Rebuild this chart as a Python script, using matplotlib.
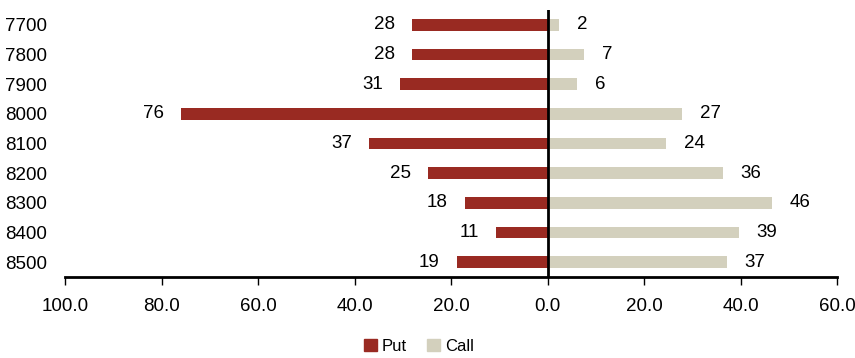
import matplotlib.pyplot as plt
import numpy as np
from matplotlib.patches import Patch

strikes = ["7700", "7800", "7900", "8000", "8100", "8200", "8300", "8400", "8500"]
put_values = [28.0, 28.0, 30.6, 75.9, 37.0, 24.7, 17.1, 10.7, 18.8]
call_values = [2.4, 7.6, 6.2, 27.9, 24.5, 36.3, 46.5, 39.6, 37.1]
put_labels = ["28", "28", "31", "76", "37", "25", "18", "11", "19"]
call_labels = ["2", "7", "6", "27", "24", "36", "46", "39", "37"]

PUT_COLOR = "#992a22"
CALL_COLOR = "#d3d0bd"

plt.rcParams["font.family"] = ["Liberation Sans", "DejaVu Sans"]

fig = plt.figure(figsize=(8.55, 3.58), dpi=100)
ax = fig.add_axes([65 / 855, 1 - 277 / 358, (837 - 65) / 855, (277 - 10) / 358])

y = np.arange(len(strikes))
ax.barh(y, [-v for v in put_values], height=0.4, color=PUT_COLOR)
ax.barh(y, call_values, height=0.4, color=CALL_COLOR)

# value labels sit ~17px beyond the bar end
for yi, v, lab in zip(y, put_values, put_labels):
    ax.annotate(lab, (-v, yi), xytext=(-17, 0), textcoords="offset pixels",
                ha="right", va="center", fontsize=13.5)
for yi, v, lab in zip(y, call_values, call_labels):
    ax.annotate(lab, (v, yi), xytext=(18, 0), textcoords="offset pixels",
                ha="left", va="center", fontsize=13.5)

ax.axvline(0, color="black", linewidth=2)
ax.set_xlim(-100, 60)
ax.set_ylim(len(strikes) - 0.5, -0.5)
ticks = np.arange(-100, 61, 20)
ax.set_xticks(ticks)
ax.set_xticklabels([f"{abs(t):.1f}" for t in ticks], fontsize=13.5)
ax.set_yticks(y)
ax.set_yticklabels(strikes, fontsize=13.5)
ax.tick_params(axis="y", length=0, pad=13)
ax.tick_params(axis="x", direction="out", length=6, width=1, pad=9)

for side in ["top", "right", "left"]:
    ax.spines[side].set_visible(False)
ax.spines["bottom"].set_linewidth(2)

handles = [Patch(color=PUT_COLOR, label="Put"), Patch(color=CALL_COLOR, label="Call")]
fig.legend(handles=handles, loc="lower center", bbox_to_anchor=(0.49, -0.03), ncol=2,
           frameon=False, fontsize=12, handlelength=0.8, handleheight=0.8,
           handletextpad=0.3, columnspacing=1.2)

fig.savefig("out.png", dpi=100)
